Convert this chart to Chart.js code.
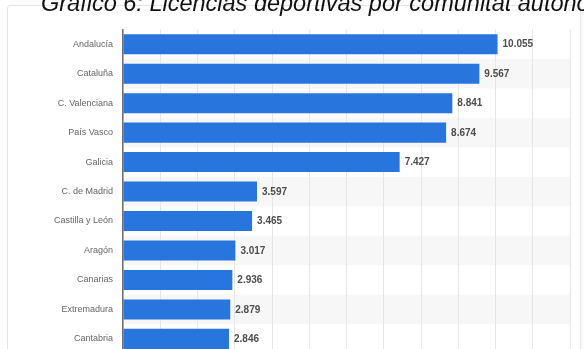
<!DOCTYPE html>
<html>
<head>
<meta charset="utf-8">
<script src="https://cdn.jsdelivr.net/npm/chart.js@4/dist/chart.umd.min.js"></script>
<style>
  html, body { margin: 0; padding: 0; background: #fff; overflow: hidden; width: 584px; height: 349px; }
  #box { position: absolute; left: 7px; top: 5px; width: 572px; height: 400px; border: 1px solid #e6e6e6; border-radius: 3px; box-shadow: 1px 0 3px rgba(0,0,0,0.05); }
  #title { position: absolute; left: 41px; top: -9px; white-space: nowrap; font-family: "Liberation Sans", Arial, sans-serif; font-style: italic; font-size: 23.5px; line-height: 24px; color: #111; z-index: 2; }
  #chart { position: absolute; left: 0; top: 0; z-index: 1; }
</style>
</head>
<body>
<div id="box"></div>
<div id="title">Gráfico 6: Licencias deportivas por comunitat autònoma</div>
<canvas id="chart" width="584" height="369"></canvas>
<script>
// Datos
const comunidades = ['Andalucía', 'Cataluña', 'C. Valenciana', 'País Vasco', 'Galicia', 'C. de Madrid',
  'Castilla y León', 'Aragón', 'Canarias', 'Extremadura', 'Cantabria'];
const licencias = [10055, 9567, 8841, 8674, 7427, 3597, 3465, 3017, 2936, 2879, 2846];
const ejeMax = 12000;
const ejePaso = 1000;

// Formato con punto de miles
const formato = (v) => String(v).replace(/\B(?=(\d{3})+(?!\d))/g, '.');

// Bandas alternas de fondo
const bandas = {
  id: 'bandas',
  beforeDraw(chart) {
    const { ctx, chartArea, scales } = chart;
    const y = scales.y;
    const paso = y.getPixelForValue(1) - y.getPixelForValue(0);
    ctx.save();
    ctx.fillStyle = '#f7f7f7';
    comunidades.forEach((c, i) => {
      if (i % 2 === 1) {
        const yc = y.getPixelForValue(i);
        ctx.fillRect(chartArea.left, yc - paso / 2, chartArea.right - chartArea.left, paso);
      }
    });
    ctx.restore();
  }
};

// Etiquetas de valor al final de cada barra
const etiquetas = {
  id: 'etiquetas',
  afterDatasetsDraw(chart) {
    const { ctx } = chart;
    const meta = chart.getDatasetMeta(0);
    ctx.save();
    ctx.font = 'bold 10px "Liberation Sans", Arial, sans-serif';
    ctx.fillStyle = '#4d4d4d';
    ctx.textAlign = 'left';
    ctx.textBaseline = 'middle';
    meta.data.forEach((bar, i) => {
      ctx.fillText(formato(licencias[i]), bar.x + 5, bar.y + 0.5);
    });
    ctx.restore();
  }
};

new Chart(document.getElementById('chart').getContext('2d'), {
  type: 'bar',
  data: {
    labels: comunidades,
    datasets: [{
      data: licencias,
      backgroundColor: '#2876dd',
      categoryPercentage: 0.68,
      barPercentage: 1,
    }],
  },
  options: {
    indexAxis: 'y',
    responsive: false,
    devicePixelRatio: 1,
    animation: false,
    layout: { padding: { left: 0, top: 29.5, right: 14, bottom: 0 } },
    plugins: { legend: { display: false }, tooltip: { enabled: false } },
    scales: {
      x: {
        min: 0,
        max: ejeMax,
        ticks: { display: false, stepSize: ejePaso },
        grid: { color: '#e6e6e6', lineWidth: 1, drawTicks: false },
        border: { display: false },
        afterFit: (scale) => { scale.height = 0; },
      },
      y: {
        grid: { display: false, drawTicks: false },
        border: { color: '#707070', width: 1.5 },
        ticks: {
          color: '#666',
          padding: 10,
          font: { family: '"Liberation Sans", Arial, sans-serif', size: 9 },
        },
        afterFit: (scale) => { scale.width = 123; },
      },
    },
  },
  plugins: [bandas, etiquetas],
});
</script>
</body>
</html>
